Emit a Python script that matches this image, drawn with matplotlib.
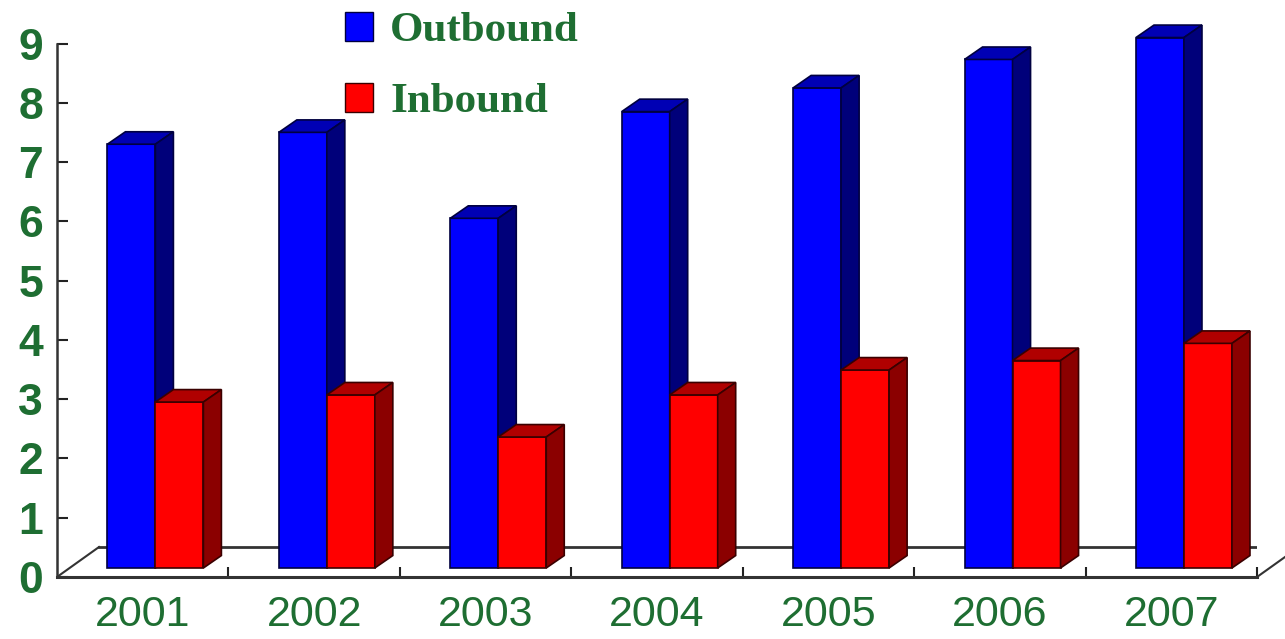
import numpy as np
import matplotlib
matplotlib.use('Agg')
import matplotlib.pyplot as plt
from matplotlib.patches import Polygon, Patch

# Données
years = ['2001', '2002', '2003', '2004', '2005', '2006', '2007']
outbound = [7.15, 7.35, 5.9, 7.7, 8.1, 8.58, 8.95]
inbound = [2.8, 2.92, 2.21, 2.92, 3.34, 3.5, 3.79]
y_ticks = list(range(10))

# Couleurs (face avant, dessus, côté, contour)
blue = ('#0000ff', '#0000b4', '#00007a', '#000040')
red = ('#ff0000', '#b00000', '#8b0000', '#3a0000')
green = '#1e6e32'

# Effet 3D (unités des données)
w = 0.28          # largeur d'une barre
sx, sy = 0.074, 0.152   # décalage du plan des barres
dx, dy = 0.105, 0.21    # profondeur d'une barre
fx, fy = 0.245, 0.506   # profondeur du sol

fig = plt.figure(figsize=(12.85, 6.39), dpi=100)
ax = fig.add_axes([57/1285, 62/639, 1200/1285, 569/639])
ax.set_xlim(0, 7)
ax.set_ylim(0, 9.6)

# Sol
ax.plot([fx, 7 + fx], [fy, fy], color='#333333', lw=2, zorder=2)
ax.plot([0, fx], [0, fy], color='#333333', lw=1.5, zorder=2)
ax.plot([7, 7 + fx], [0, fy], color='#333333', lw=1.5, zorder=2, clip_on=False)


def bar3d(x0, val, cols):
    front, top, side, edge = cols
    xs = x0 + sx
    y1 = sy + val
    ax.bar(xs, val, width=w, bottom=sy, align='edge', color=front,
           edgecolor=edge, linewidth=1.2, zorder=3)
    ax.add_patch(Polygon([(xs, y1), (xs + w, y1), (xs + w + dx, y1 + dy),
                          (xs + dx, y1 + dy)], closed=True, facecolor=top,
                         edgecolor=edge, lw=1.2, zorder=3, clip_on=False))
    ax.add_patch(Polygon([(xs + w, sy), (xs + w + dx, sy + dy),
                          (xs + w + dx, y1 + dy), (xs + w, y1)], closed=True,
                         facecolor=side, edgecolor=edge, lw=1.2, zorder=3,
                         clip_on=False))


for i in range(len(years)):
    c = i + 0.5
    bar3d(c - w, outbound[i], blue)
    bar3d(c, inbound[i], red)

# Axes
for s in ['top', 'right']:
    ax.spines[s].set_visible(False)
ax.spines['left'].set_bounds(0, 9)
ax.spines['left'].set_color('#333333')
ax.spines['left'].set_linewidth(1.8)
ax.spines['bottom'].set_color('#333333')
ax.spines['bottom'].set_linewidth(2.2)

ax.set_yticks(y_ticks)
ax.set_yticklabels([str(t) for t in y_ticks], fontsize=32, color=green,
                   fontweight='bold', family='Liberation Sans')
ax.tick_params(axis='y', direction='in', length=8, width=1.5, pad=10,
               color='#222222')

ax.set_xticks(np.arange(len(years)) + 0.5)
ax.set_xticklabels(years, fontsize=31, color=green, family='Liberation Sans')
ax.set_xticks(np.arange(1, len(years) + 1), minor=True)
ax.tick_params(axis='x', which='major', length=0, pad=13)
ax.tick_params(axis='x', which='minor', direction='in', length=7, width=1.5,
               color='#222222')

# Légende
handles = [Patch(facecolor=blue[0], edgecolor=blue[3], label='Outbound'),
           Patch(facecolor=red[0], edgecolor=red[3], label='Inbound')]
fig.legend(handles=handles, loc='upper left',
           bbox_to_anchor=(345/1285, 1 - 12/639), frameon=False,
           prop=dict(family='Liberation Serif', weight='bold', size=31),
           labelcolor=green, handlelength=0.65, handleheight=0.65,
           handletextpad=0.4, labelspacing=0.75, borderpad=0,
           borderaxespad=0)

fig.savefig('out.png', dpi=100, facecolor='white')
